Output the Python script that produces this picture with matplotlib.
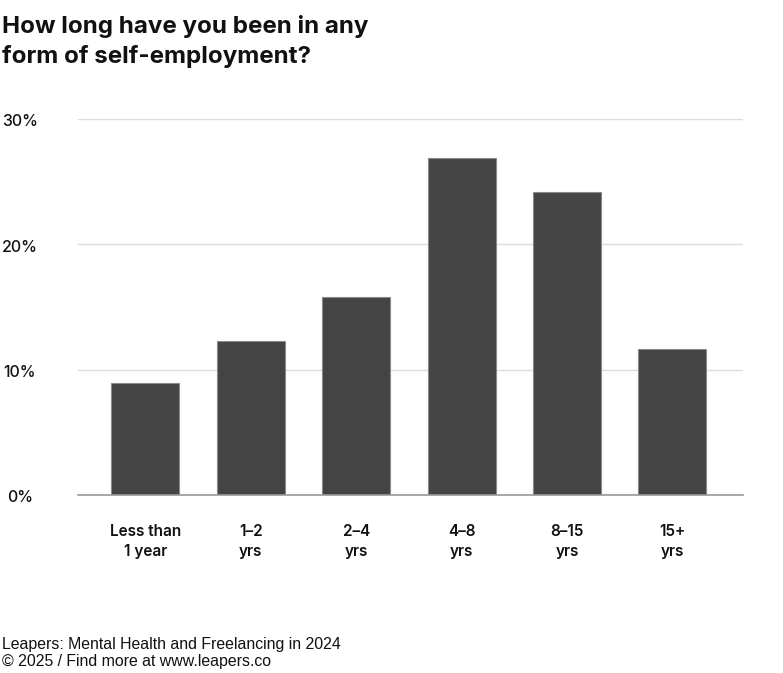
import matplotlib.pyplot as plt

# data
categories = ['Less than\n1 year', '1–2\nyrs', '2–4\nyrs', '4–8\nyrs', '8–15\nyrs', '15+\nyrs']
shares = [8.95, 12.25, 15.8, 26.9, 24.2, 11.65]
y_ticks = [0, 10, 20, 30]
y_labels = ['0%', '10%', '20%', '30%']

W, H = 783, 673
fig = plt.figure(figsize=(W / 100, H / 100), dpi=100)
fig.patch.set_facecolor('white')

# axes placed in pixel terms
left, right, bottom, top = 78, 743, 495, 119
ax = fig.add_axes([left / W, 1 - bottom / H, (right - left) / W, (bottom - top) / H])

x = range(len(categories))
ax.bar(x, shares, width=0.645, color='#444444', edgecolor='#8a8a8a', linewidth=0.8, zorder=3)

ax.set_xlim(-0.64, 5.67)
ax.set_ylim(0, 30)
ax.set_yticks(y_ticks)
ax.grid(axis='y', color='#dcdcdc', linewidth=1.0, zorder=0)
ax.set_axisbelow(True)
for s in ['top', 'right', 'left']:
    ax.spines[s].set_visible(False)
ax.spines['bottom'].set_color('#999999')
ax.spines['bottom'].set_linewidth(1.2)
ax.spines['bottom'].set_zorder(4)
ax.tick_params(axis='both', length=0)
ax.set_xticks([])
ax.set_yticklabels([])

# y labels, centred at x≈20px, a bit under each grid line
for v, lab in zip(y_ticks, y_labels):
    ypix = bottom - (bottom - top) * v / 30 + 3
    ax.text(20 / W, 1 - ypix / H, lab, transform=fig.transFigure,
            ha='center', va='center', fontsize=11.5, family='Inter', fontweight='medium', color='#111111')

# category labels
for i, lab in enumerate(categories):
    ax.text(i, -2.35, lab, ha='center', va='top', fontsize=11, family='Inter',
            fontweight='semibold', color='#111111', linespacing=1.35)

title_lines = ['How long have you been in any', 'form of self-employment?']
for j, line in enumerate(title_lines):
    fig.text(2 / W, 1 - (33 + 30 * j) / H, line, ha='left', va='baseline', fontsize=17.4,
             family='Inter', fontweight='bold', color='#111111')

fig.text(2 / W, 1 - 649 / H, 'Leapers: Mental Health and Freelancing in 2024',
         ha='left', va='baseline', fontsize=11.4, family='Liberation Sans', color='#111111')
fig.text(2 / W, 1 - 666 / H, '© 2025 / Find more at www.leapers.co',
         ha='left', va='baseline', fontsize=11.4, family='Liberation Sans', color='#111111')

fig.savefig('out.png', dpi=100, facecolor='white')
